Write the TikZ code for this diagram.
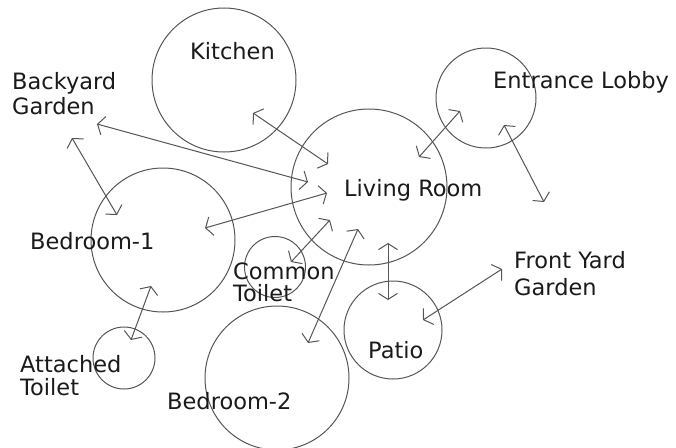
\documentclass[tikz,border=0pt]{standalone}
\usepackage{fontspec}
\setmainfont{DejaVu Sans}
\usetikzlibrary{arrows.meta}
\definecolor{linegray}{HTML}{555555}
\definecolor{textgray}{HTML}{1A1A1A}
\tikzset{
  room/.style={circle, draw=linegray, line width=1pt, inner sep=0pt},
  lbl/.style={inner sep=0pt, text=textgray, font=\fontsize{22.5}{25}\selectfont, anchor=base west, align=left},
  link/.style={draw=linegray, line width=1pt, {Straight Barb[length=6pt,width=19pt]}-{Straight Barb[length=6pt,width=19pt]}}
}
\begin{document}
\begin{tikzpicture}[x=1pt,y=-1pt]
\useasboundingbox (0,0) rectangle (676,447);
% rooms
\node[room, minimum size=144pt] (kit) at (224,80) {};
\node[room, minimum size=156pt] (liv) at (369,187) {};
\node[room, minimum size=100pt] (lob) at (486,98) {};
\node[room, minimum size=144pt] (bed1) at (163,240) {};
\node[room, minimum size=61pt] (ct) at (275,267) {};
\node[room, minimum size=62pt] (att) at (124,358) {};
\node[room, minimum size=144pt] (bed2) at (277,378) {};
\node[room, minimum size=98pt] (pat) at (393,330) {};
% labels (multi-line labels: base = baseline of last line)
\node[lbl] (tkit) at (190,59) {Kitchen};
\node[lbl] (tby) at (12,114) {Backyard\\Garden};
\node[lbl] (tlob) at (493,88) {Entrance Lobby};
\node[lbl] (tliv) at (344,196) {Living Room};
\node[lbl] (tb1) at (30,249) {Bedroom-1};
\node[lbl, font=\fontsize{22.5}{22}\selectfont] (tct) at (233,301) {Common\\Toilet};
\node[lbl, font=\fontsize{22.5}{23}\selectfont] (tatt) at (20,395) {Attached\\Toilet};
\node[lbl] (tb2) at (167,409) {Bedroom-2};
\node[lbl] (tpat) at (368,358) {Patio};
\node[lbl, font=\fontsize{22.5}{27}\selectfont] (tfy) at (514,295) {Front Yard\\Garden};
% connector ends
\coordinate (kitA) at (253,113); \coordinate (kitB) at (328,164);
\coordinate (byA) at (97,124);   \coordinate (byB) at (308,182);
\coordinate (bbA) at (72,138);   \coordinate (bbB) at (117,215);
\coordinate (b1A) at (205,228);  \coordinate (b1B) at (327,193);
\coordinate (ctA) at (291,262);  \coordinate (ctB) at (330,220);
\coordinate (b2A) at (308,343);  \coordinate (b2B) at (358,229);
\coordinate (paA) at (388,243);  \coordinate (paB) at (388,300);
\coordinate (elA) at (419,157);  \coordinate (elB) at (460,111);
\coordinate (eA) at (504,125);   \coordinate (eB) at (544,202);
\coordinate (fyA) at (423,320);  \coordinate (fyB) at (502,269);
\coordinate (atA) at (151,286);  \coordinate (atB) at (131,340);
% connectors
\draw[link] (kitA) -- (kitB);
\draw[link] (byA) -- (byB);
\draw[link] (bbA) -- (bbB);
\draw[link] (b1A) -- (b1B);
\draw[link] (ctA) -- (ctB);
\draw[link] (b2A) -- (b2B);
\draw[link] (paA) -- (paB);
\draw[link] (elA) -- (elB);
\draw[link] (eA) -- (eB);
\draw[link] (fyA) -- (fyB);
\draw[link] (atA) -- (atB);
\end{tikzpicture}
\end{document}
